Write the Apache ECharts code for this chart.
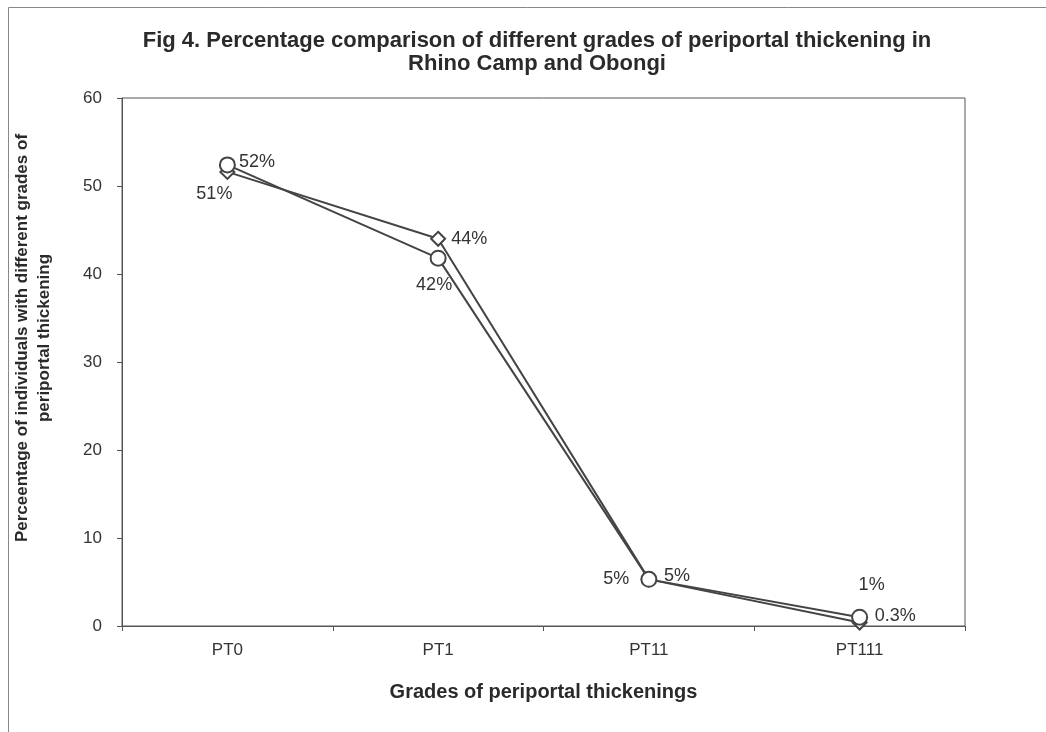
<!DOCTYPE html>
<html>
<head>
<meta charset="utf-8">
<script src="https://cdn.jsdelivr.net/npm/echarts@6/dist/echarts.min.js"></script>
<style>
  html, body { margin: 0; padding: 0; background: #fff; }
  #chart { width: 1046px; height: 732px; }
</style>
</head>
<body>
<div id="chart"></div>
<script>
  // categories on the x axis
  var grades = ['PT0', 'PT1', 'PT11', 'PT111'];
  var yTicks = [0, 10, 20, 30, 40, 50, 60];

  // circle markers
  var circleValues = [52.4, 41.8, 5.3, 1.0];
  var circleLabels = ['52%', '42%', '5%', '1%'];
  // diamond markers
  var diamondValues = [51.6, 44.0, 5.3, 0.4];
  var diamondLabels = ['51%', '44%', '5%', '0.3%'];

  var circlePos = [
    { position: 'right', offset: [-2, -3] },
    { position: 'bottom', offset: [-4, 4] },
    { position: 'left', offset: [-6, 0] },
    { position: 'top', offset: [12, -10] }
  ];
  var diamondPos = [
    { position: 'bottom', offset: [-13, 0] },
    { position: 'right', offset: [0, 0] },
    { position: 'right', offset: [2, -3] },
    { position: 'right', offset: [2, -6] }
  ];

  function buildData(values, labels, pos) {
    return values.map(function (v, i) {
      return {
        value: v,
        label: {
          show: true,
          formatter: labels[i],
          position: pos[i].position,
          offset: pos[i].offset
        }
      };
    });
  }

  var chart = echarts.init(document.getElementById('chart'));
  var textColor = '#333';
  var lineColor = '#444';

  var option = {
    animation: false,
    backgroundColor: '#fff',
    title: {
      text: 'Fig 4. Percentage comparison of different grades of periportal thickening in\nRhino Camp and Obongi',
      left: 532,
      textAlign: 'center',
      top: 24,
      textStyle: {
        fontFamily: 'Liberation Sans',
        fontSize: 22,
        fontWeight: 'bold',
        color: '#2a2a2a',
        lineHeight: 23
      }
    },
    graphic: [{
      type: 'rect',
      shape: { x: 8.5, y: 7.5, width: 1060, height: 760 },
      style: { fill: 'none', stroke: '#888', lineWidth: 1 }
    }],
    grid: {
      left: 122,
      right: 81,
      top: 98,
      bottom: 106,
      outerBoundsMode: 'none',
      show: true,
      borderColor: '#555',
      borderWidth: 1
    },
    xAxis: {
      type: 'category',
      data: grades,
      boundaryGap: true,
      name: 'Grades of periportal thickenings',
      nameLocation: 'middle',
      nameGap: 56,
      nameTextStyle: {
        fontFamily: 'Liberation Sans',
        fontSize: 20,
        fontWeight: 'bold',
        color: '#2a2a2a'
      },
      axisLine: { lineStyle: { color: '#555', width: 1 } },
      axisTick: { show: true, length: 5, lineStyle: { color: '#555' } },
      axisLabel: {
        margin: 16,
        fontFamily: 'Liberation Sans',
        fontSize: 17,
        color: textColor
      },
      splitLine: { show: false }
    },
    yAxis: {
      type: 'value',
      min: yTicks[0],
      max: yTicks[yTicks.length - 1],
      interval: 10,
      name: 'Perceentage of individuals with different grades of\nperiportal thickening',
      nameLocation: 'middle',
      nameGap: 67,
      nameTextStyle: {
        fontFamily: 'Liberation Sans',
        fontSize: 17,
        fontWeight: 'bold',
        color: '#2a2a2a',
        lineHeight: 22,
        padding: [0, 0, 0, 48]
      },
      axisLine: { show: true, lineStyle: { color: '#555', width: 1 } },
      axisTick: { show: true, length: 5, lineStyle: { color: '#555' } },
      axisLabel: {
        margin: 20,
        fontFamily: 'Liberation Sans',
        fontSize: 17,
        color: textColor
      },
      splitLine: { show: false }
    },
    series: [
      {
        name: 'circle',
        type: 'line',
        data: buildData(circleValues, circleLabels, circlePos),
        symbol: 'circle',
        symbolSize: 15,
        itemStyle: { color: '#fff', borderColor: lineColor, borderWidth: 2 },
        lineStyle: { color: lineColor, width: 2 },
        label: {
          fontFamily: 'Liberation Sans',
          fontSize: 18,
          color: textColor
        },
        z: 3
      },
      {
        name: 'diamond',
        type: 'line',
        data: buildData(diamondValues, diamondLabels, diamondPos),
        symbol: 'diamond',
        symbolSize: 14,
        itemStyle: { color: '#fff', borderColor: lineColor, borderWidth: 2 },
        lineStyle: { color: lineColor, width: 2 },
        label: {
          fontFamily: 'Liberation Sans',
          fontSize: 18,
          color: textColor
        },
        z: 2
      }
    ]
  };

  chart.setOption(option);
</script>
</body>
</html>
